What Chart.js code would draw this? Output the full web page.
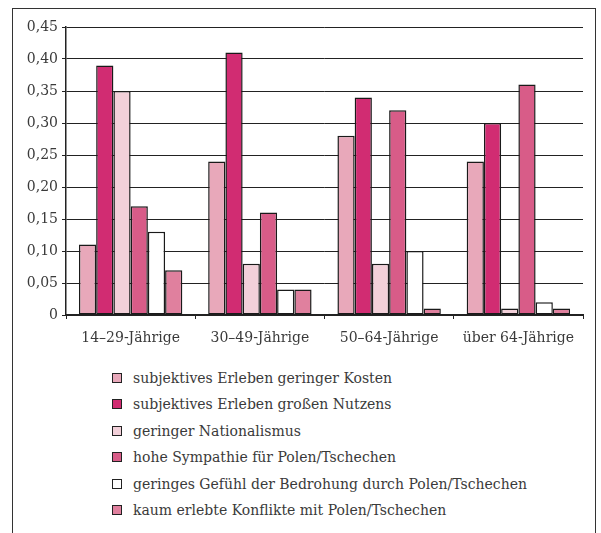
<!DOCTYPE html>
<html>
<head>
<meta charset="utf-8">
<script src="https://cdn.jsdelivr.net/npm/chart.js@4"></script>
<style>
  html, body { margin: 0; padding: 0; background: #fff; }
  body { width: 601px; height: 533px; position: relative; overflow: hidden; }
  #frame { position: absolute; left: 12px; top: 8px; width: 584px; height: 560px; border: 1px solid #333; box-sizing: border-box; }
  #wrap { position: absolute; left: 0; top: 0; width: 601px; height: 360px; }
  #legend { position: absolute; left: 112px; top: 365px; margin: 0; padding: 0; list-style: none;
            font-family: "DejaVu Serif", serif; font-size: 14px; color: #3a3a3a; }
  #legend li { height: 26.4px; line-height: 26.4px; white-space: nowrap; }
  #legend span { display: inline-block; width: 8px; height: 8px; border: 1px solid #222; margin-right: 11px; vertical-align: 0px; }
</style>
</head>
<body>
<div id="frame"></div>
<div id="wrap"><canvas id="chart"></canvas></div>
<ul id="legend"></ul>
<script>
// Données
const categories = ['14–29-Jährige', '30–49-Jährige', '50–64-Jährige', 'über 64-Jährige'];
const seriesNames = [
    'subjektives Erleben geringer Kosten',
    'subjektives Erleben großen Nutzens',
    'geringer Nationalismus',
    'hohe Sympathie für Polen/Tschechen',
    'geringes Gefühl der Bedrohung durch Polen/Tschechen',
    'kaum erlebte Konflikte mit Polen/Tschechen'
];
const geringeKosten = [0.11, 0.24, 0.28, 0.24];
const grosserNutzen = [0.39, 0.41, 0.34, 0.30];
const nationalismus = [0.35, 0.08, 0.08, 0.01];
const sympathie = [0.17, 0.16, 0.32, 0.36];
const bedrohung = [0.13, 0.04, 0.10, 0.02];
const konflikte = [0.07, 0.04, 0.01, 0.01];
const yTicks = [0, 0.05, 0.10, 0.15, 0.20, 0.25, 0.30, 0.35, 0.40, 0.45];

const seriesValues = [geringeKosten, grosserNutzen, nationalismus, sympathie, bedrohung, konflikte];
const colors = ['#e8a8ba', '#d12c72', '#f2d0d9', '#d85c88', '#ffffff', '#e0809e'];

const FONT = { family: '"DejaVu Serif", serif', size: 14 };

// Légende HTML
const legend = document.getElementById('legend');
seriesNames.forEach((name, i) => {
    const li = document.createElement('li');
    li.innerHTML = '<span style="background:' + colors[i] + '"></span>' + name;
    legend.appendChild(li);
});

const ctx = document.getElementById('chart').getContext('2d');
new Chart(ctx, {
    type: 'bar',
    data: {
        labels: categories,
        datasets: seriesValues.map((vals, i) => ({
            label: seriesNames[i],
            data: vals,
            backgroundColor: colors[i],
            borderColor: '#1a1a1a',
            borderWidth: 1.5,
            borderSkipped: false,
            categoryPercentage: 0.8,
            barPercentage: 1.0
        }))
    },
    options: {
        responsive: true,
        maintainAspectRatio: false,
        animation: false,
        layout: { padding: { top: 27, right: 18, left: 0, bottom: 0 } },
        plugins: { legend: { display: false }, tooltip: { enabled: false } },
        scales: {
            x: {
                afterFit: function(scale) { scale.height = 45; },
                grid: { display: true, offset: true, drawOnChartArea: false, drawTicks: true, tickLength: 4, color: '#222' },
                border: { display: true, color: '#222', width: 2 },
                ticks: { color: '#3a3a3a', font: FONT, padding: 11 }
            },
            y: {
                min: 0,
                max: 0.45,
                afterFit: function(scale) { scale.width = 66; },
                afterBuildTicks: function(scale) { scale.ticks = yTicks.map(v => ({ value: v })); },
                grid: { color: '#222', lineWidth: 1, tickLength: 4 },
                border: { display: true, color: '#222', width: 1.5 },
                ticks: {
                    color: '#3a3a3a',
                    font: FONT,
                    padding: 4,
                    callback: function(value) {
                        return value === 0 ? '0' : value.toFixed(2).replace('.', ',');
                    }
                }
            }
        }
    }
});
</script>
</body>
</html>
